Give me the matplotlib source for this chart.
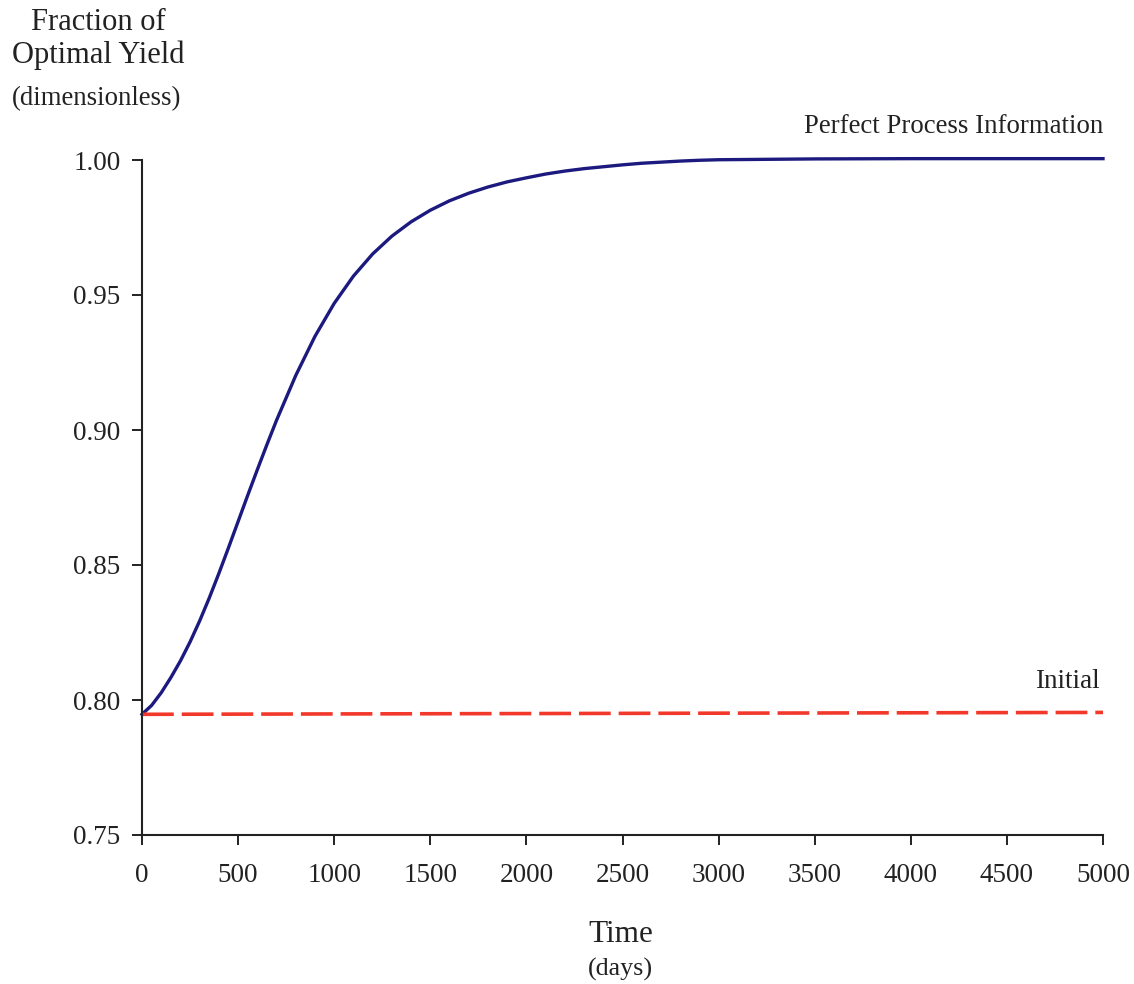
import numpy as np
import matplotlib.pyplot as plt

plt.rcParams['font.family'] = ['Liberation Serif', 'DejaVu Serif']

# Data
time_days = [0, 50, 100, 150, 200, 250, 300, 350, 400, 450, 500, 550, 600, 650, 700,
             800, 900, 1000, 1100, 1200, 1300, 1400, 1500, 1600, 1700, 1800, 1900,
             2000, 2100, 2200, 2300, 2400, 2500, 2600, 2700, 2800, 2900, 3000,
             3500, 4000, 4500, 5000]
perfect_info = [0.7947, 0.7980, 0.8027, 0.8083, 0.8145, 0.8215, 0.8293, 0.8378, 0.8469,
                0.8564, 0.8661, 0.8758, 0.8853, 0.8946, 0.9036,
                0.9202, 0.9347, 0.9469, 0.9570, 0.9652, 0.9718, 0.9771, 0.9814, 0.9849,
                0.9877, 0.9900, 0.9919, 0.9934, 0.9948, 0.9959, 0.9968, 0.9975, 0.9982,
                0.9988, 0.9992, 0.9996, 0.9999, 1.0001, 1.0004, 1.0005, 1.0005, 1.0005]
initial_time = [0, 5000]
initial_yield = [0.7947, 0.7954]

x_ticks = [0, 500, 1000, 1500, 2000, 2500, 3000, 3500, 4000, 4500, 5000]
y_ticks = [0.75, 0.80, 0.85, 0.90, 0.95, 1.00]

ink = '#222222'

fig = plt.figure(figsize=(11.34, 9.84), dpi=100)
ax = fig.add_axes([142 / 1134, 1 - 835 / 984, (1103 - 142) / 1134, (835 - 160) / 984])

ax.plot(time_days, perfect_info, color='#1c1a7e', lw=2.4,
        solid_joinstyle='round', clip_on=False)
ax.plot(initial_time, initial_yield, color='#f2382a', lw=2.6, dashes=(8.8, 2.2))

ax.set_xlim(0, 5000)
ax.set_ylim(0.75, 1.0)
ax.set_xticks(x_ticks)
ax.set_yticks(y_ticks)
ax.set_yticklabels(['%.2f' % v for v in y_ticks])
ax.tick_params(direction='out', length=7.5, width=1.4, labelsize=19.5, colors=ink)
ax.tick_params(axis='y', pad=8)
ax.tick_params(axis='x', pad=13)
for s in ['top', 'right']:
    ax.spines[s].set_visible(False)
for s in ['left', 'bottom']:
    ax.spines[s].set_linewidth(1.5)
    ax.spines[s].set_color(ink)

# Axis titles
fig.text(98 / 1134, 1 - 8 / 984, 'Fraction of\nOptimal Yield', ha='center', va='top',
         fontsize=22, linespacing=1.15, color=ink)
fig.text(97 / 1134, 1 - 99 / 984, '(dimensionless)', ha='center', va='center',
         fontsize=19.3, color=ink)
fig.text(621 / 1134, 1 - 942 / 984, 'Time', ha='center', va='baseline',
         fontsize=22.5, color=ink)
fig.text(620 / 1134, 1 - 969 / 984, '(days)', ha='center', va='center',
         fontsize=18.7, color=ink)

# Series labels
ax.text(5000, 1.0100, 'Perfect Process Information', ha='right', va='baseline',
        fontsize=19.3, color=ink)
ax.text(4984, 0.8046, 'Initial', ha='right', va='baseline',
        fontsize=19.5, color=ink)

fig.savefig('out.png', dpi=100)
